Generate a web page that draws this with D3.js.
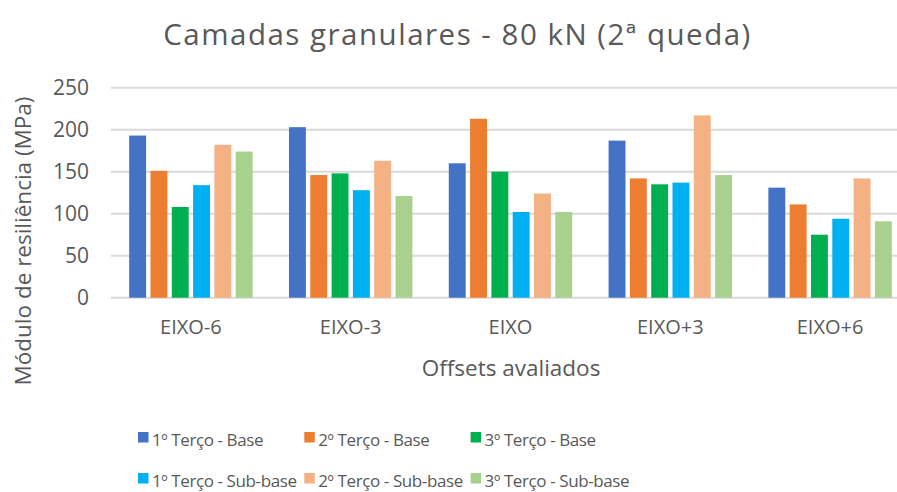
<!DOCTYPE html>
<html>
<head>
<meta charset="utf-8">
<script src="https://cdn.jsdelivr.net/npm/d3@7/dist/d3.min.js"></script>
<style>
  html, body { margin: 0; padding: 0; background: #fff; }
  svg { display: block; font-family: 'Open Sans', sans-serif; }
</style>
</head>
<body>
<svg id="chart" width="897" height="492"></svg>
<script>
const categories = ['EIXO-6', 'EIXO-3', 'EIXO', 'EIXO+3', 'EIXO+6'];
const seriesNames = ['1º Terço - Base', '2º Terço - Base', '3º Terço - Base',
                     '1º Terço - Sub-base', '2º Terço - Sub-base', '3º Terço - Sub-base'];
const seriesColors = ['#4472C4', '#ED7D31', '#00B050', '#00B0F0', '#F4B183', '#A9D18E'];
const terco1Base    = [193, 203, 160, 187, 131];
const terco2Base    = [151, 146, 213, 142, 111];
const terco3Base    = [108, 148, 150, 135, 75];
const terco1SubBase = [134, 128, 102, 137, 94];
const terco2SubBase = [182, 163, 124, 217, 142];
const terco3SubBase = [174, 121, 102, 146, 91];
const yTicks = [0, 50, 100, 150, 200, 250];

const seriesValues = [terco1Base, terco2Base, terco3Base, terco1SubBase, terco2SubBase, terco3SubBase];
const textColor = '#595959';
const font = "'Open Sans', sans-serif";

const svg = d3.select('#chart');

const margin = {left: 111, right: 910, top: 87.7, bottom: 297.7};

const x0 = d3.scaleBand()
  .domain(categories)
  .range([margin.left, margin.right])
  .paddingInner(0.2)
  .paddingOuter(0.1);

const x1 = d3.scaleBand()
  .domain(d3.range(seriesNames.length))
  .range([0, x0.bandwidth()]);

const y = d3.scaleLinear()
  .domain([0, 250])
  .range([margin.bottom, margin.top]);

// Title
svg.append('text')
  .attr('x', 457.5)
  .attr('y', 45)
  .attr('text-anchor', 'middle')
  .style('font-size', '29.5px')
  .style('letter-spacing', '1.5px')
  .style('fill', textColor)
  .text('Camadas granulares - 80 kN (2ª queda)');

// Gridlines
svg.append('g')
  .selectAll('line')
  .data(yTicks)
  .enter()
  .append('line')
    .attr('x1', margin.left)
    .attr('x2', margin.right)
    .attr('y1', d => y(d))
    .attr('y2', d => y(d))
    .attr('stroke', '#D9D9D9')
    .attr('stroke-width', 2);

// Y axis labels
const yAxis = svg.append('g')
  .attr('transform', 'translate(89,0)')
  .call(d3.axisLeft(y).tickValues(yTicks).tickSize(0).tickPadding(0));
yAxis.select('.domain').remove();
yAxis.selectAll('text')
  .style('font-family', font)
  .style('font-size', '21px')
  .style('fill', textColor);

// X axis labels
const xAxis = svg.append('g')
  .attr('transform', 'translate(0,' + margin.bottom + ')')
  .call(d3.axisBottom(x0).tickSize(0).tickPadding(22));
xAxis.select('.domain').remove();
xAxis.selectAll('text')
  .style('font-family', font)
  .style('font-size', '20px')
  .style('fill', textColor);

// Bars
const groups = svg.append('g')
  .selectAll('g')
  .data(categories)
  .enter()
  .append('g')
    .attr('transform', d => 'translate(' + x0(d) + ',0)');

groups.selectAll('rect')
  .data((d, ci) => seriesValues.map((vals, si) => ({si: si, v: vals[ci]})))
  .enter()
  .append('rect')
    .attr('x', d => x1(d.si) + 2.2)
    .attr('y', d => y(d.v))
    .attr('width', x1.bandwidth() - 4.4)
    .attr('height', d => y(0) - y(d.v))
    .attr('fill', d => seriesColors[d.si]);

// Axis titles
svg.append('text')
  .attr('x', 511)
  .attr('y', 376)
  .attr('text-anchor', 'middle')
  .style('font-size', '22.5px')
  .style('fill', textColor)
  .text('Offsets avaliados');

svg.append('text')
  .attr('transform', 'translate(31,241) rotate(-90)')
  .attr('text-anchor', 'middle')
  .style('font-size', '22.5px')
  .style('fill', textColor)
  .text('Módulo de resiliência (MPa)');

// Legend
const legend = svg.append('g')
  .selectAll('g')
  .data(seriesNames)
  .enter()
  .append('g')
    .attr('transform', (d, i) => 'translate(' + (138 + (i % 3) * 166.3) + ',' + (432 + Math.floor(i / 3) * 41) + ')');

legend.append('rect')
  .attr('width', 10.5)
  .attr('height', 10.5)
  .attr('fill', (d, i) => seriesColors[i]);

legend.append('text')
  .attr('x', 14)
  .attr('y', 13.5)
  .style('font-size', '17px')
  .style('letter-spacing', '-0.4px')
  .style('fill', textColor)
  .text(d => d);
</script>
</body>
</html>
